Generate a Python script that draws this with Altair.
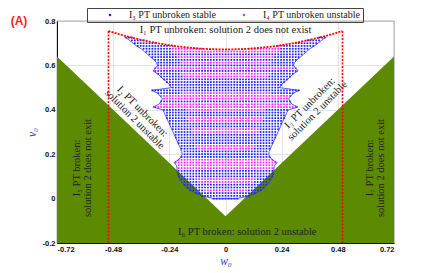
import altair as alt
import pandas as pd

# ---------------- data ----------------
X_TICKS = [-0.72, -0.48, -0.24, 0, 0.24, 0.48, 0.72]
Y_TICKS = [-0.2, 0, 0.2, 0.4, 0.6, 0.8]

# green (PT broken) region: below the V  v = |w| - 0.08
GREEN_W = [-0.72, 0.0, 0.72]
GREEN_V = [0.64, -0.08, 0.64]

# red boundaries
RED_X = [-0.5, 0.5]
RED_TOP_W = [-0.5, -0.45, -0.4, -0.35, -0.3, -0.25, -0.2, -0.15, -0.1, -0.05, 0.0,
             0.05, 0.1, 0.15, 0.2, 0.25, 0.3, 0.35, 0.4, 0.45, 0.5]
RED_TOP_V = [0.755, 0.739, 0.725, 0.713, 0.702, 0.693, 0.685, 0.680, 0.675, 0.673, 0.672,
             0.673, 0.675, 0.680, 0.685, 0.693, 0.702, 0.713, 0.725, 0.739, 0.755]

# scanned rows of (w0, v0) grid: row v0, outer |w0| extent, inner |w0| limit, class
ROW_V = [0.0, 0.0125, 0.025, 0.0375, 0.05, 0.0625, 0.075, 0.0875, 0.1, 0.1125,
         0.125, 0.1375, 0.15, 0.1625, 0.175, 0.1875, 0.2, 0.2125, 0.225, 0.2375,
         0.25, 0.2625, 0.275, 0.2875, 0.3, 0.3125, 0.325, 0.3375, 0.35, 0.3625,
         0.375, 0.3875, 0.4, 0.4125, 0.425, 0.4375, 0.45, 0.4625, 0.475, 0.4875,
         0.5, 0.5125, 0.525, 0.5375, 0.55, 0.5625, 0.575, 0.5875, 0.6, 0.6125,
         0.625, 0.6375, 0.65, 0.6625, 0.675, 0.6875, 0.7, 0.7125, 0.725]
ROW_OUTER = [0.05, 0.10, 0.13, 0.15, 0.165, 0.177, 0.187, 0.195, 0.20, 0.205,
             0.207, 0.207, 0.21, 0.22, 0.20, 0.19, 0.185, 0.187, 0.192, 0.197,
             0.203, 0.208, 0.213, 0.219, 0.224, 0.23, 0.235, 0.24, 0.246, 0.251,
             0.257, 0.262, 0.268, 0.31, 0.285, 0.275, 0.27, 0.28, 0.29, 0.315,
             0.23, 0.24, 0.25, 0.265, 0.278, 0.29, 0.31, 0.30, 0.29, 0.295,
             0.305, 0.32, 0.333, 0.347, 0.36, 0.38, 0.395, 0.41, 0.425]
ROW_INNER = [0.0] * 54 + [0.10, 0.22, 0.29, 0.35, 0.40]
ROW_KIND = ("bbbxbb" "xx" "bbb" "mmmm" "bbb" "xx" "bbbb" "xx" "bb" "xx" "bb"
            "xmmbmmx" "bbbbb" "xx" "b" "m" "b" "x" "b" "x" "b" "xxxxxx")
W_STEP = 0.0125

STABLE = "I\u2083 PT unbroken stable"
UNSTABLE = "I\u2084 PT unbroken unstable"

# ---------------- tables ----------------
w_grid = [round(j * W_STEP, 4) for j in range(-36, 37)]
pts = []
for v, ho, hi, kind in zip(ROW_V, ROW_OUTER, ROW_INNER, ROW_KIND):
    for w in w_grid:
        a = abs(w)
        if a <= ho + 1e-9 and a >= hi:
            if kind == "b":
                c = STABLE
            elif kind == "m":
                c = UNSTABLE
            else:
                c = UNSTABLE if a < 0.65 * ho else STABLE
            pts.append({"w": w, "v": v, "type": c})
pts = pd.DataFrame(pts)

env = []
n = len(ROW_V)
for i in range(n - 1, -1, -1):
    env.append({"w": -ROW_OUTER[i], "v": ROW_V[i], "o": len(env)})
for i in range(n):
    env.append({"w": ROW_OUTER[i], "v": ROW_V[i], "o": len(env)})
env = pd.DataFrame(env)

green = pd.DataFrame({"w": GREEN_W, "v": GREEN_V, "v2": [-0.2] * 3})
red_top = pd.DataFrame({"w": RED_TOP_W, "v": RED_TOP_V})
red_v = pd.DataFrame({"w": RED_X, "v": [-0.2, -0.2], "v2": [0.755, 0.755]})

xs = alt.Scale(domain=[-0.72, 0.72], nice=False, zero=False)
ys = alt.Scale(domain=[-0.2, 0.8], nice=False, zero=False)
X = alt.X("w:Q", scale=xs, axis=alt.Axis(values=X_TICKS, title="w\u2080",
                                          labelExpr="toString(datum.value)"))
Y = alt.Y("v:Q", scale=ys, axis=alt.Axis(values=Y_TICKS, title="v\u2080",
                                          labelExpr="toString(datum.value)"))

green_l = alt.Chart(green).mark_area(color="#5c8a00", opacity=1).encode(
    x=X, y=Y, y2="v2:Q")

serif = "Liberation Serif"
tcol = "#222222"


def label(w, v, txt, angle=0, size=10.5):
    d = pd.DataFrame({"w": [w], "v": [v], "t": [txt]})
    return alt.Chart(d).mark_text(font=serif, fontSize=size, color=tcol, angle=angle,
                                  lineBreak="\n", align="center", baseline="middle",
                                  lineHeight=11).encode(
        x=alt.X("w:Q", scale=xs), y=alt.Y("v:Q", scale=ys), text="t:N")


labels = [
    label(0.0, 0.758, "I\u2081 PT unbroken: solution 2 does not exist"),
    label(-0.355, 0.392, "I\u2082 PT unbroken:\nsolution 2 unstable", angle=45),
    label(0.36, 0.43, "I\u2083 PT unbroken:\nsolution 2 unstable", angle=315),
    label(-0.633, 0.138, "I\u2085 PT broken:\nsolution 2 does not exit", angle=270),
    label(0.616, 0.138, "I\u2087 PT broken:\nsolution 2 does not exit", angle=270),
    label(0.093, -0.15, "I\u2086 PT broken: solution 2 unstable"),
]

env_l = alt.Chart(env).mark_line(color="#2b2bff", strokeWidth=0.8).encode(
    x=alt.X("w:Q", scale=xs), y=alt.Y("v:Q", scale=ys), order="o:Q")

pts_l = alt.Chart(pts).mark_square(size=3, opacity=1).encode(
    x=alt.X("w:Q", scale=xs), y=alt.Y("v:Q", scale=ys),
    color=alt.Color("type:N", scale=alt.Scale(domain=[STABLE, UNSTABLE],
                                              range=["#2020ff", "#ff20ff"]),
                    legend=alt.Legend(title=None, orient="none", legendX=30, legendY=-13,
                                      direction="horizontal", strokeColor="#444",
                                      padding=2, symbolType="square", symbolSize=5,
                                      labelFont=serif, labelFontSize=10,
                                      labelColor=tcol, symbolOffset=16,
                                      labelOffset=14, columnPadding=6,
                                      gridAlign="none", labelLimit=300)))

red_top_l = alt.Chart(red_top).mark_line(color="#ff0000", strokeWidth=1.8,
                                         strokeDash=[2, 1.2], interpolate="monotone").encode(
    x=alt.X("w:Q", scale=xs), y=alt.Y("v:Q", scale=ys))
red_v_l = alt.Chart(red_v).mark_rule(color="#ff0000", strokeWidth=1.6,
                                     strokeDash=[2, 1.5]).encode(
    x=alt.X("w:Q", scale=xs), y=alt.Y("v:Q", scale=ys), y2="v2:Q")

tag = alt.Chart(pd.DataFrame({"t": ["(A)"]})).mark_text(
    font="Liberation Sans", fontSize=12, fontWeight="bold", color="#ff2020",
    align="center", baseline="middle").encode(
    x=alt.value(-38), y=alt.value(0), text="t:N")

base = alt.Chart(green).mark_point(opacity=0).encode(x=X, y=Y)

chart = alt.layer(base, green_l, *labels, pts_l, env_l, red_top_l, red_v_l, tag).properties(
    width=337, height=222,
    autosize=alt.AutoSizeParams(type="none"),
    padding={"left": 49, "top": 13, "right": 30, "bottom": 26},
).configure_view(stroke="#111", strokeWidth=0.8).configure_axis(
    grid=True, gridColor="#dddddd", gridWidth=0.8, domainColor="#111",
    ticks=False, labelFont="Liberation Sans", labelFontWeight="bold",
    labelFontSize=7.5, labelColor="#111", labelPadding=2,
    titleFont=serif, titleFontStyle="italic", titleFontWeight="normal",
    titleFontSize=11.5, titleColor="#3535d8",
).configure_axisX(titlePadding=3).configure_axisY(titlePadding=5)

chart.save("out.html", embed_options={"renderer": "svg", "actions": False})
